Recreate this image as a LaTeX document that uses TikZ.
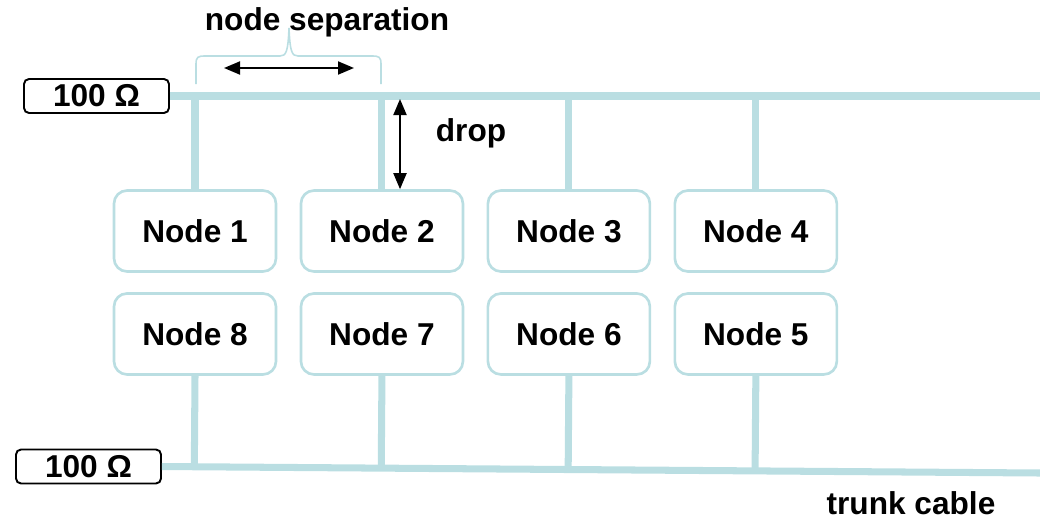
\documentclass[tikz,border=0pt]{standalone}
\usepackage{fontspec}
\setmainfont{Liberation Sans}
\usetikzlibrary{positioning,calc,arrows.meta}
\definecolor{cable}{RGB}{186,222,226}
\newcommand{\lab}{\fontsize{18}{20}\selectfont\bfseries}
\tikzset{
	station/.style={draw=cable, fill=white, line width=1.5pt, rounded corners=0.26cm,
		minimum width=3.24cm, minimum height=1.62cm, inner sep=0pt, font=\lab},
	term/.style={draw=black, fill=white, line width=1.1pt, rounded corners=0.1cm,
		minimum width=2.9cm, minimum height=0.68cm, inner sep=0pt, font=\lab},
	trunk/.style={draw=cable, line width=4pt},
	dim/.style={line width=1.1pt,
		{Triangle[length=0.32cm,width=0.26cm]}-{Triangle[length=0.32cm,width=0.26cm]}},
}
\begin{document}
\begin{tikzpicture}[x=0.02cm, y=-0.02cm]
	\useasboundingbox (0,0) rectangle (1040,521);
	% stations
	\node[station] (n1) at (195,231) {Node 1};
	\node[station, right=0.447cm of n1] (n2) {Node 2};
	\node[station, right=0.447cm of n2] (n3) {Node 3};
	\node[station, right=0.447cm of n3] (n4) {Node 4};
	\node[station, below=0.387cm of n1] (n8) {Node 8};
	\node[station, right=0.447cm of n8] (n7) {Node 7};
	\node[station, right=0.447cm of n7] (n6) {Node 6};
	\node[station, right=0.447cm of n6] (n5) {Node 5};
	% terminations
	\node[term] (r1) at (96.5,96) {100 Ω};
	\node[term] (r2) at (88.5,466.5) {100 Ω};
	\coordinate (topR) at (1040,96);
	\coordinate (botR) at (1040,473);
	% trunk cable and drops
	\draw[trunk] (r1.east) -- (topR);
	\draw[trunk] (r2.east) -- (botR);
	\foreach \n in {n1,n2,n3,n4}
		\draw[trunk] (\n.north) -- (\n.north |- topR);
	\foreach \n in {n8,n7,n6,n5}
		\draw[trunk] (\n.south) -- ($(r2.east)!(\n.south)!(botR)$);
	% node separation
	\draw[cable, line width=0.9pt] (196,84) -- (196,64) .. controls (196,57) and (198,56) .. (205,56)
		-- (280,56) .. controls (286,56) and (288,52) .. (289,28)
		.. controls (290,52) and (292,56) .. (298,56) -- (372,56)
		.. controls (379,56) and (381,57) .. (381,64) -- (381,84);
	\coordinate (sepL) at (224,68);
	\coordinate (sepR) at (354,68);
	\draw[dim] (sepL) -- (sepR);
	\node[font=\lab] (seplab) at (327,22) {node separation};
	% drop
	\coordinate (dropT) at (400,99);
	\coordinate (dropB) at (dropT |- n2.north);
	\draw[dim] (dropT) -- (dropB);
	\node[font=\lab] (droplab) at (471,133) {drop};
	\node[font=\lab] (trunklab) at (911,503) {trunk cable};
\end{tikzpicture}
\end{document}
